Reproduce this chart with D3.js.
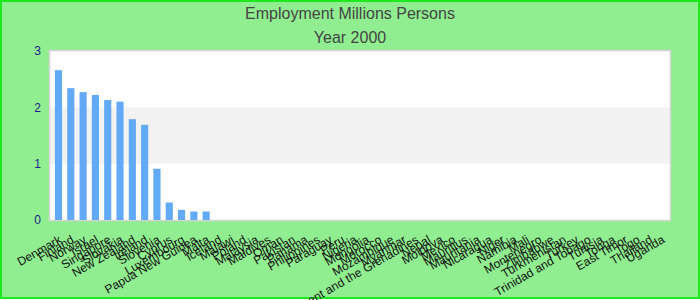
<!DOCTYPE html>
<meta charset="utf-8">
<style>
    body { margin: 0; }
    svg text { font-family: "Liberation Sans", Arial, sans-serif; }
    .axis-y text { fill: #1c1c8c; font-size: 12px; }
    .axis-x text { fill: #111; font-size: 12px; }
</style>
<body></body>
<script src="https://d3js.org/d3.v7.min.js"></script>
<script>
// chart data
var countries = ["Denmark", "Finland", "Norway", "Israel", "Singapore", "Slovakia",
    "New Zealand", "Ireland", "Slovenia", "Cyprus", "Luxembourg", "Papua New Guinea",
    "Malta", "Iceland", "Malawi", "Poland", "Malaysia", "Maldives", "Oman", "Pakistan",
    "Panama", "Philippines", "Paraguay", "Peru", "Nigeria", "Mongolia", "Morocco",
    "Mozambique", "Myanmar", "Saint Vincent and the Grenadines", "Nepal", "Moldova",
    "Mexico", "Mauritius", "Mauritania", "Nicaragua", "Niger", "Namibia", "Mali",
    "Montenegro", "Zimbabwe", "Turkmenistan", "Turkey", "Trinidad and Tobago", "Tunisia",
    "Tonga", "East Timor", "Togo", "Thailand", "Uganda"];
var employment = [2.66, 2.34, 2.27, 2.22, 2.13, 2.10, 1.79, 1.69, 0.91, 0.31, 0.18, 0.15,
    0.15, 0, 0, 0, 0, 0, 0, 0, 0, 0, 0, 0, 0, 0, 0, 0, 0, 0, 0, 0, 0, 0, 0, 0, 0, 0, 0,
    0, 0, 0, 0, 0, 0, 0, 0, 0, 0, 0];
var yTicks = [0, 1, 2, 3];
var titleLines = ["Employment Millions Persons", "Year 2000"];

var W = 700, H = 300;
var margin = {top: 51, right: 30, bottom: 80, left: 50};
var width = W - margin.left - margin.right,
    height = H - margin.top - margin.bottom;

var svg = d3.select("body").append("svg")
    .attr("width", W)
    .attr("height", H);

// background + outer border
svg.append("rect")
    .attr("x", 1).attr("y", 1)
    .attr("width", W - 2).attr("height", H - 3)
    .attr("fill", "#90ee90")
    .attr("stroke", "#1ee81e")
    .attr("stroke-width", 2);

// titles
svg.selectAll(".title")
    .data(titleLines)
    .enter().append("text")
    .attr("class", "title")
    .attr("x", W / 2)
    .attr("y", function (d, i) { return 19 + i * 24; })
    .attr("text-anchor", "middle")
    .attr("fill", "#444")
    .style("font-size", "16px")
    .text(function (d) { return d; });

var g = svg.append("g")
    .attr("transform", "translate(" + margin.left + "," + margin.top + ")");

var x = d3.scaleBand()
    .domain(countries)
    .range([0, width])
    .paddingInner(0.42)
    .paddingOuter(0.4);

var y = d3.scaleLinear()
    .domain([0, 3])
    .range([height, 0]);

// plot area with alternating band
g.append("rect")
    .attr("width", width).attr("height", height)
    .attr("fill", "#fff");

g.append("rect")
    .attr("x", 0).attr("y", y(2))
    .attr("width", width).attr("height", y(1) - y(2))
    .attr("fill", "#f2f2f2");

g.append("rect")
    .attr("x", -0.5).attr("y", -0.5)
    .attr("width", width + 1).attr("height", height + 1)
    .attr("fill", "none")
    .attr("stroke", "#d4d4d4")
    .attr("stroke-width", 1.5);

// bars
g.selectAll(".bar")
    .data(employment)
    .enter().append("rect")
    .attr("class", "bar")
    .attr("x", function (d, i) { return x(countries[i]); })
    .attr("y", function (d) { return y(d); })
    .attr("width", x.bandwidth())
    .attr("height", function (d) { return height - y(d); })
    .attr("fill", "#62aaf5");

// y axis
var yAxis = g.append("g")
    .attr("class", "axis-y")
    .call(d3.axisLeft(y).tickValues(yTicks).tickFormat(d3.format("d")).tickSize(0).tickPadding(9));
yAxis.select(".domain").remove();

// x axis, rotated labels
var xAxis = g.append("g")
    .attr("class", "axis-x")
    .attr("transform", "translate(0," + height + ")")
    .call(d3.axisBottom(x).tickSize(0));
xAxis.select(".domain").remove();
xAxis.selectAll("text")
    .attr("text-anchor", "end")
    .attr("dy", 0)
    .attr("y", 0)
    .attr("transform", "translate(4,22) rotate(-30)");
</script>
